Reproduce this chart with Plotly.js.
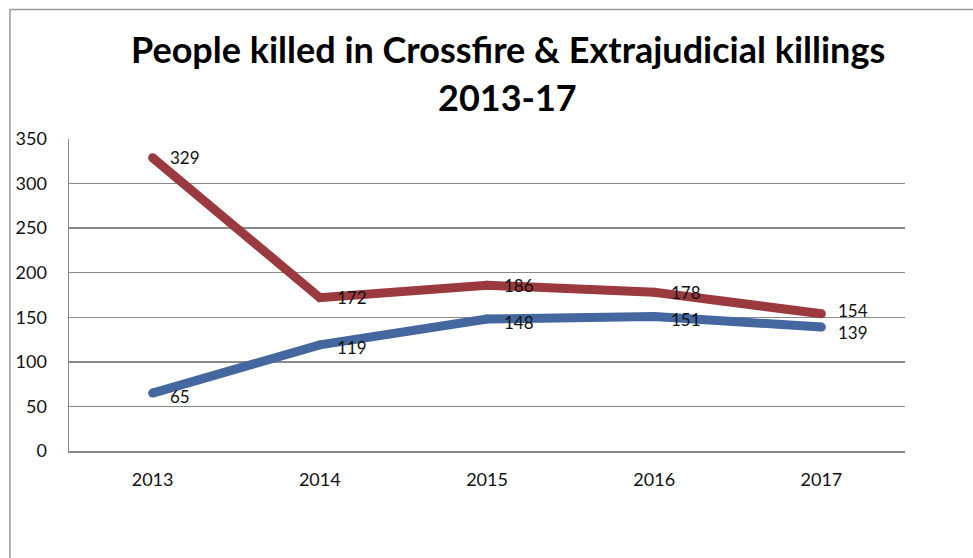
<!DOCTYPE html>
<html>
<head>
<meta charset="utf-8">
<script src="https://cdn.plot.ly/plotly-3.0.1.min.js"></script>
<style>html,body{margin:0;padding:0;background:#fff;}#chart{width:973px;height:558px;}</style>
</head>
<body>
<div id="chart"></div>
<script>
const years = ['2013', '2014', '2015', '2016', '2017'];
const crossfire = [329, 172, 186, 178, 154];
const extrajudicial = [65, 119, 148, 151, 139];
const yTicks = [0, 50, 100, 150, 200, 250, 300, 350];
const titleLine1 = 'People killed in Crossfire & Extrajudicial killings';
const titleLine2 = '2013-17';

const redColor = '#9A3A3E';
const blueColor = '#44679F';
const font = 'Lato, "Open Sans", sans-serif';

function series(vals, color) {
  return {
    x: years, y: vals, type: 'scatter', mode: 'lines+markers',
    line: {color: color, width: 9},
    marker: {color: color, size: 9},
    hoverinfo: 'skip', showlegend: false, cliponaxis: false
  };
}

const annotations = [];
[[crossfire, extrajudicial, 0, 3], [extrajudicial, crossfire, -3, -2]].forEach(([vals, other, ys, extra]) => {
  vals.forEach((v, i) => {
    const close = Math.abs(v - other[i]) < 20;
    annotations.push({
      x: i, y: v, xref: 'x', yref: 'y', text: String(v),
      showarrow: false, xanchor: 'left', yanchor: 'middle', xshift: 15, yshift: ys + (close ? extra : 0),
      font: {family: font, size: 17, color: '#111'}
    });
  });
});
annotations.push({xref: 'paper', yref: 'paper', x: 0.525, y: 1 + (139 - 49) / 312, text: '<b>' + titleLine1.replace('&', '&amp;') + '</b>',
  showarrow: false, xanchor: 'center', yanchor: 'middle', font: {family: font, size: 36, color: '#000'}});
annotations.push({xref: 'paper', yref: 'paper', x: 0.525, y: 1 + (139 - 97) / 312, text: '<b>' + titleLine2 + '</b>',
  showarrow: false, xanchor: 'center', yanchor: 'middle', font: {family: font, size: 36, color: '#000'}});

const layout = {
  width: 973, height: 558,
  margin: {l: 69, r: 68, t: 139, b: 107},
  paper_bgcolor: '#fff', plot_bgcolor: '#fff',
  font: {family: font, size: 18, color: '#111'},
  xaxis: {
    type: 'category', range: [-0.5, 4.5], showgrid: false,
    showline: true, linecolor: '#888', linewidth: 1.5, ticks: '', zeroline: false,
    ticklabelstandoff: 12, tickfont: {family: font, size: 18, color: '#111'}, fixedrange: true
  },
  yaxis: {
    range: [0, 350], tickvals: yTicks, ticktext: yTicks.map(String),
    showgrid: true, gridcolor: '#8a8a8a', gridwidth: 1.5,
    showline: true, linecolor: '#888', linewidth: 1.5, zeroline: false, ticks: '',
    ticklabelstandoff: 17, tickfont: {family: font, size: 18, color: '#111'}, fixedrange: true
  },
  shapes: [
    {type: 'rect', xref: 'paper', yref: 'paper', x0: (10 - 69) / 835, x1: 1.2, y0: -0.5, y1: 1 + (139 - 9.5) / 312,
     line: {color: '#999', width: 1.5}, fillcolor: 'rgba(0,0,0,0)', layer: 'below'}
  ],
  annotations: annotations
};

Plotly.newPlot('chart', [series(crossfire, redColor), series(extrajudicial, blueColor)], layout, {displayModeBar: false, staticPlot: true});
</script>
</body>
</html>
